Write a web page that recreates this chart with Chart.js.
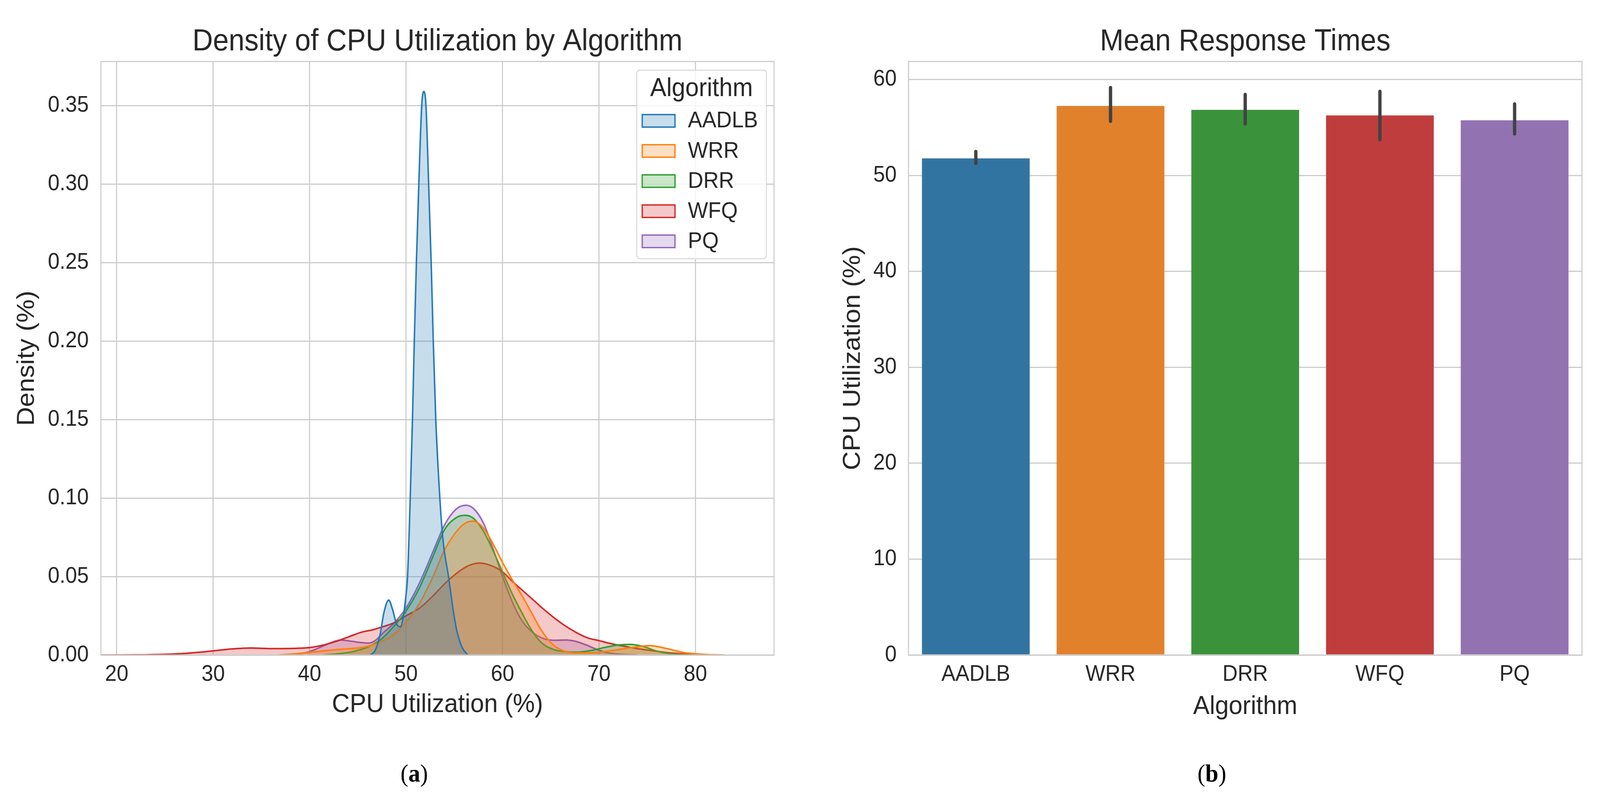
<!DOCTYPE html>
<html lang="en">
<head>
<meta charset="UTF-8">
<title>CPU Utilization by Algorithm</title>
<script src="https://cdn.jsdelivr.net/npm/chart.js"></script>
<style>
    html, body {
        margin: 0;
        background: #ffffff;
        overflow: hidden;
    }
    #stage {
        position: absolute;
        left: 0;
        top: 0;
        width: 4345px;
        height: 2043px;
        transform-origin: 0 0;
    }
    #left-box {
        position: absolute;
        left: 0;
        top: 0;
        width: 2200px;
        height: 1880px;
    }
    #right-box {
        position: absolute;
        left: 2200px;
        top: 0;
        width: 2145px;
        height: 1880px;
    }
    .caption {
        position: absolute;
        top: 1948px;
        line-height: 64px;
        font-family: "Liberation Serif", "Times New Roman", serif;
        font-size: 64px;
        color: #000;
        transform: translateX(-50%);
    }
</style>
</head>
<body>
<div id="stage">
    <div id="left-box"><canvas id="kdeChart"></canvas></div>
    <div id="right-box"><canvas id="barChart"></canvas></div>
    <div class="caption" style="left:1125px">(<b>a</b>)</div>
    <div class="caption" style="left:3291px">(<b>b</b>)</div>
</div>

<script>
// categories and colours
const algorithms = ['AADLB', 'WRR', 'DRR', 'WFQ', 'PQ'];
const lineColors = ['#1f77b4', '#ff7f0e', '#2ca02c', '#d62728', '#9467bd'];
const fillColors = ['rgba(31,119,180,0.25)', 'rgba(255,127,14,0.25)', 'rgba(44,160,44,0.25)',
                    'rgba(214,39,40,0.25)', 'rgba(148,103,189,0.25)'];
const barColors = ['#3274a1', '#e1812c', '#3a923a', '#c03d3e', '#9372b2'];

// density curves: [cpu %, density]
const aadlbCurve = [[46.3,0],[46.8,0.003],[47.3,0.013],[47.7,0.027],[48.2,0.035],[48.6,0.029],[49.0,0.020],
    [49.4,0.018],[49.7,0.024],[49.95,0.036],[50.15,0.05],[50.43,0.10],[50.66,0.15],[50.85,0.20],[51.07,0.25],
    [51.32,0.30],[51.62,0.35],[51.84,0.359],[52.06,0.35],[52.34,0.30],[52.6,0.25],[52.82,0.20],[53.08,0.15],
    [53.5,0.10],[53.85,0.072],[54.4,0.05],[54.8,0.032],[55.24,0.016],[55.8,0.005],[56.4,0]];
const wrrCurve = [[36.8,0],[38.5,0.0008],[40.0,0.0017],[41.5,0.0027],[42.7,0.0034],[44.0,0.004],[45.4,0.0048],
    [46.3,0.006],[47.4,0.0085],[48.7,0.013],[50.0,0.021],[51.4,0.033],[52.8,0.050],[54.0,0.067],[55.4,0.080],
    [56.3,0.0845],[57.0,0.0853],[58.0,0.081],[59.0,0.071],[60.0,0.059],[61.0,0.048],[62.0,0.038],[63.0,0.027],
    [64.0,0.016],[65.0,0.008],[66.0,0.0035],[67.5,0.0013],[69.6,0.0015],[71.5,0.003],[73.4,0.0048],[75.3,0.006],
    [76.9,0.0043],[78.7,0.0017],[80.9,0.0004],[83.0,0]];
const drrCurve = [[41.4,0],[43.0,0.0008],[44.1,0.0017],[45.0,0.003],[46.0,0.005],[47.4,0.010],[48.7,0.018],
    [50.0,0.028],[51.4,0.043],[52.8,0.063],[54.0,0.080],[55.2,0.0875],[56.1,0.089],[57.0,0.087],[58.1,0.078],
    [59.2,0.064],[60.2,0.050],[61.0,0.039],[62.0,0.027],[63.0,0.016],[64.0,0.008],[65.3,0.0035],[66.5,0.0022],
    [67.7,0.0018],[69.1,0.0028],[70.7,0.005],[72.0,0.0064],[73.2,0.0068],[74.5,0.0056],[76.0,0.0025],
    [77.7,0.0006],[79.5,0]];
const wfqCurve = [[18.4,0],[22.0,0.0001],[24.0,0.0003],[26.65,0.0009],[29.3,0.0022],[32.0,0.0039],[33.9,0.0045],
    [36.0,0.0041],[38.7,0.0043],[40.05,0.0048],[41.5,0.0065],[42.7,0.0086],[44.0,0.0115],[45.4,0.0146],
    [46.5,0.016],[47.4,0.0177],[48.74,0.0205],[50.0,0.025],[51.42,0.030],[52.76,0.0375],[54.1,0.046],
    [55.44,0.053],[56.5,0.057],[57.6,0.0586],[58.8,0.057],[60.0,0.053],[61.0,0.047],[62.1,0.041],[63.2,0.035],
    [64.3,0.029],[65.4,0.0235],[66.4,0.019],[67.6,0.0145],[68.8,0.011],[70.0,0.0092],[71.5,0.0069],
    [72.8,0.0054],[74.2,0.0039],[75.5,0.0028],[76.9,0.0017],[78.2,0.001],[79.5,0.0004],[81.0,0.0001],[83.0,0]];
const pqCurve = [[37.4,0],[39.0,0.0008],[40.0,0.0022],[41.5,0.006],[42.7,0.009],[43.3,0.0095],[44.3,0.0088],
    [45.4,0.0079],[46.1,0.0076],[46.8,0.0092],[47.6,0.014],[48.7,0.020],[50.0,0.030],[51.4,0.046],[52.8,0.066],
    [54.0,0.083],[55.2,0.093],[56.25,0.0954],[57.2,0.092],[58.1,0.083],[59.0,0.068],[60.0,0.050],[61.0,0.034],
    [62.0,0.022],[63.2,0.014],[64.5,0.010],[65.5,0.0094],[66.6,0.0096],[67.6,0.0087],[68.6,0.0066],
    [69.6,0.004],[70.7,0.0017],[72.0,0.0006],[74.0,0]];
const curves = [aadlbCurve, wrrCurve, drrCurve, wfqCurve, pqCurve];

// bar chart: mean cpu utilization and its error bar ends
const meanCpu = [51.78, 57.24, 56.84, 56.26, 55.75];
const ciLow = [51.27, 55.65, 55.38, 53.72, 54.33];
const ciHigh = [52.49, 59.15, 58.44, 58.76, 57.45];

// tick labels
const cpuTicks = [20, 30, 40, 50, 60, 70, 80];
const densityTicks = [0, 0.05, 0.10, 0.15, 0.20, 0.25, 0.30, 0.35];
const barTicks = [0, 10, 20, 30, 40, 50, 60];

// fit the 4345 x 2043 layout into whatever viewport we actually get
const stage = document.getElementById('stage');
stage.style.transform = 'scale(' + (window.innerWidth / 4345) + ',' + (window.innerHeight / 2043) + ')';

const FONT = '"Liberation Sans", Arial, Helvetica, sans-serif';
const TEXT = '#262626';
const GRID = '#cccccc';
Chart.defaults.font.family = FONT;
Chart.defaults.color = TEXT;

// axes frame (all four spines)
const framePlugin = {
    id: 'frame',
    afterDatasetsDraw(chart) {
        const {ctx, chartArea: a} = chart;
        ctx.save();
        ctx.strokeStyle = GRID;
        ctx.lineWidth = 3;
        ctx.strokeRect(a.left, a.top, a.right - a.left, a.bottom - a.top);
        ctx.restore();
    }
};

// boxed legend in the upper right corner of the density plot
const kdeLegend = {
    id: 'kdeLegend',
    afterDraw(chart) {
        const {ctx, chartArea: a} = chart;
        const w = 352, h = 483;
        const L = a.right - 21 - w, T = a.top + 22;
        ctx.save();
        ctx.beginPath();
        ctx.roundRect(L, T, w, h, 8);
        ctx.fillStyle = 'rgba(255,255,255,0.8)';
        ctx.fill();
        ctx.strokeStyle = '#d6d6d6';
        ctx.lineWidth = 2.5;
        ctx.stroke();
        ctx.fillStyle = TEXT;
        ctx.textBaseline = 'alphabetic';
        ctx.textAlign = 'center';
        ctx.font = '66px ' + FONT;
        ctx.fillText('Algorithm', L + w / 2, T + 67);
        ctx.textAlign = 'left';
        ctx.font = '58px ' + FONT;
        chart.data.datasets.forEach((ds, i) => {
            const py = T + 114 + 77.1 * i;
            ctx.fillStyle = ds.backgroundColor;
            ctx.fillRect(L + 15, py, 89, 32);
            ctx.strokeStyle = ds.borderColor;
            ctx.lineWidth = 3.5;
            ctx.strokeRect(L + 15, py, 89, 32);
            ctx.fillStyle = TEXT;
            ctx.fillText(ds.label, L + 139, T + 147 + 77.1 * i);
        });
        ctx.restore();
    }
};

// vertical error bars over each bar
const errorBars = {
    id: 'errorBars',
    afterDatasetsDraw(chart) {
        const {ctx} = chart;
        const yScale = chart.scales.y;
        const meta = chart.getDatasetMeta(0);
        ctx.save();
        ctx.strokeStyle = '#424242';
        ctx.lineWidth = 9;
        ctx.lineCap = 'round';
        meta.data.forEach((bar, i) => {
            ctx.beginPath();
            ctx.moveTo(bar.x, yScale.getPixelForValue(ciLow[i]));
            ctx.lineTo(bar.x, yScale.getPixelForValue(ciHigh[i]));
            ctx.stroke();
        });
        ctx.restore();
    }
};

new Chart(document.getElementById('kdeChart'), {
    type: 'line',
    data: {
        datasets: algorithms.map((name, i) => ({
            label: name,
            data: curves[i].map(p => ({x: p[0], y: p[1]})),
            borderColor: lineColors[i],
            backgroundColor: fillColors[i],
            borderWidth: 4,
            fill: 'origin',
            pointRadius: 0,
            cubicInterpolationMode: 'monotone'
        }))
    },
    options: {
        responsive: true,
        maintainAspectRatio: false,
        animation: false,
        devicePixelRatio: 1,
        layout: {padding: {left: 0, right: 98, top: 0, bottom: 0}},
        plugins: {
            legend: {display: false},
            tooltip: {enabled: false},
            title: {
                display: true,
                fullSize: false,
                text: 'Density of CPU Utilization by Algorithm',
                color: TEXT,
                font: {size: 77, weight: 'normal'},
                padding: {top: 62, bottom: 3}
            }
        },
        scales: {
            x: {
                type: 'linear',
                min: 18.36,
                max: 88.15,
                afterBuildTicks: s => { s.ticks = cpuTicks.map(v => ({value: v})); },
                afterFit: s => { s.height = 1880 - 1677; },
                grid: {color: GRID, lineWidth: 3, drawTicks: false},
                border: {display: false},
                ticks: {font: {size: 57}, padding: 16, maxRotation: 0, color: TEXT},
                title: {display: true, text: 'CPU Utilization (%)', color: TEXT,
                        font: {size: 67}, padding: {top: 0, bottom: 35}}
            },
            y: {
                min: 0,
                max: 0.3781,
                afterBuildTicks: s => { s.ticks = densityTicks.map(v => ({value: v})); },
                afterFit: s => { s.width = 274; },
                grid: {color: GRID, lineWidth: 3, drawTicks: false},
                border: {display: false},
                ticks: {font: {size: 57}, padding: 33, color: TEXT, callback: v => v.toFixed(2)},
                title: {display: true, text: 'Density (%)', color: TEXT,
                        font: {size: 67}, padding: {top: 33, bottom: 0}}
            }
        }
    },
    plugins: [framePlugin, kdeLegend]
});

new Chart(document.getElementById('barChart'), {
    type: 'bar',
    data: {
        labels: algorithms,
        datasets: [{
            label: 'CPU Utilization (%)',
            data: meanCpu,
            backgroundColor: barColors,
            borderWidth: 0,
            categoryPercentage: 1.0,
            barPercentage: 0.8
        }]
    },
    options: {
        responsive: true,
        maintainAspectRatio: false,
        animation: false,
        devicePixelRatio: 1,
        layout: {padding: {left: 0, right: 49, top: 0, bottom: 0}},
        plugins: {
            legend: {display: false},
            tooltip: {enabled: false},
            title: {
                display: true,
                fullSize: false,
                text: 'Mean Response Times',
                color: TEXT,
                font: {size: 77, weight: 'normal'},
                padding: {top: 62, bottom: 3}
            }
        },
        scales: {
            x: {
                afterFit: s => { s.height = 1880 - 1677; },
                grid: {display: false, drawTicks: false},
                border: {display: false},
                ticks: {font: {size: 57}, padding: 16, maxRotation: 0, color: TEXT},
                title: {display: true, text: 'Algorithm', color: TEXT,
                        font: {size: 67}, padding: {top: 0, bottom: 30}}
            },
            y: {
                min: 0,
                max: 61.88,
                afterBuildTicks: s => { s.ticks = barTicks.map(v => ({value: v})); },
                afterFit: s => { s.width = 267; },
                grid: {color: GRID, lineWidth: 3, drawTicks: false},
                border: {display: false},
                ticks: {font: {size: 57}, padding: 32, color: TEXT},
                title: {display: true, text: 'CPU Utilization (%)', color: TEXT,
                        font: {size: 67}, padding: {top: 76, bottom: 0}}
            }
        }
    },
    plugins: [framePlugin, errorBars]
});
</script>
</body>
</html>
